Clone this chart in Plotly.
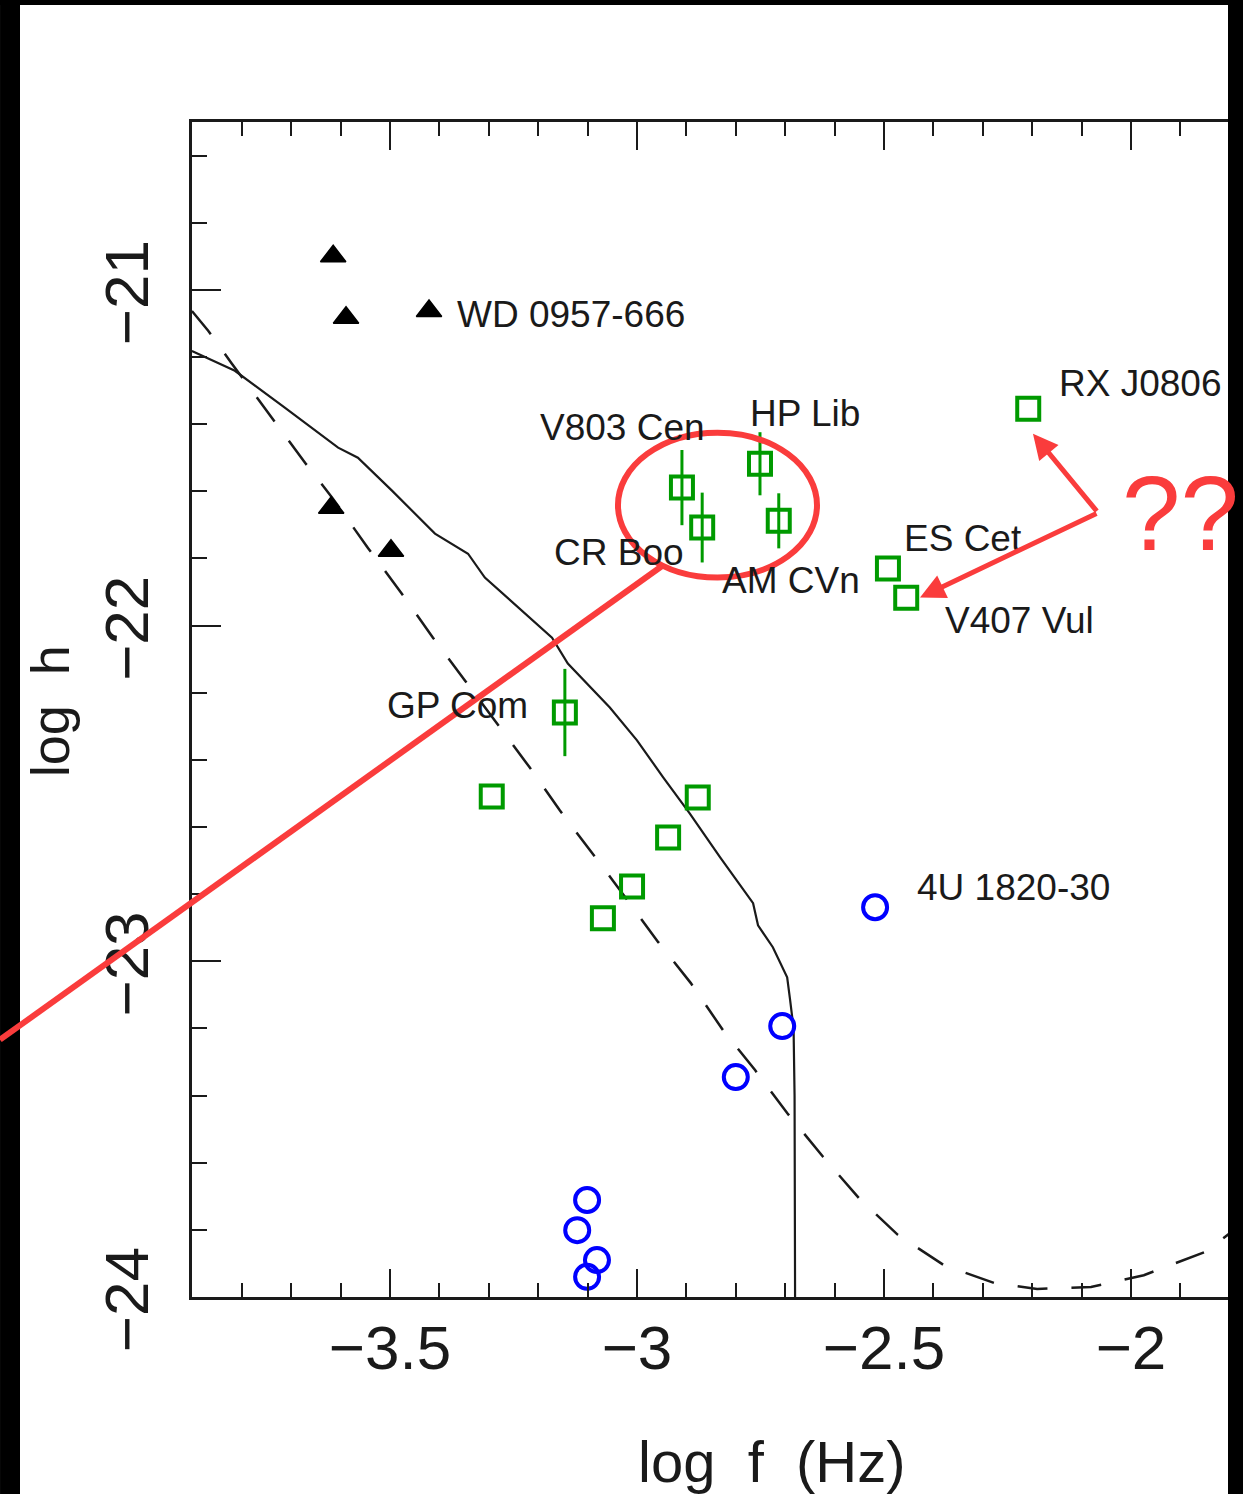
import plotly.graph_objects as go

# ---------------- data ----------------
# theoretical curves (log f, log h)
solid_f = [-3.901, -3.814, -3.713, -3.605, -3.565, -3.496, -3.409, -3.342, -3.308, -3.241,
           -3.172, -3.140, -3.055, -3.000, -2.947, -2.893, -2.832, -2.765, -2.755, -2.725,
           -2.696, -2.690, -2.683, -2.681, -2.680]
solid_h = [-21.182, -21.241, -21.351, -21.470, -21.500, -21.598, -21.726, -21.786, -21.857, -21.946,
           -22.036, -22.113, -22.244, -22.342, -22.452, -22.560, -22.690, -22.827, -22.893, -22.958,
           -23.048, -23.116, -23.200, -23.400, -24.000]

dashed_f = [-3.901, -3.868, -3.820, -3.739, -3.672, -3.617, -3.545, -3.476, -3.413, -3.348,
            -3.283, -3.217, -3.156, -3.089, -3.049, -2.957, -2.891, -2.826, -2.761, -2.696,
            -2.623, -2.551, -2.472, -2.379, -2.277, -2.190, -2.081, -1.974, -1.850, -1.800]
dashed_h = [-21.063, -21.122, -21.220, -21.381, -21.515, -21.619, -21.768, -21.905, -22.036, -22.164,
            -22.292, -22.423, -22.551, -22.679, -22.759, -22.943, -23.065, -23.205, -23.324, -23.452,
            -23.583, -23.705, -23.815, -23.905, -23.958, -23.976, -23.970, -23.935, -23.866, -23.810]

# black triangles (WD 0957-666 etc.)
tri_f = [-3.615, -3.589, -3.421, -3.619, -3.498]
tri_h = [-20.900, -21.083, -21.063, -21.649, -21.777]

# green squares with error bars
sqerr_f = [-2.909, -2.868, -2.751, -2.713, -3.146]
sqerr_h = [-21.589, -21.708, -21.518, -21.688, -22.259]
sqerr_e = [0.112, 0.104, 0.094, 0.082, 0.130]

# green squares without error bars
sq_f = [-2.208, -2.492, -2.455, -3.294, -2.877, -2.937, -3.010, -3.069]
sq_h = [-21.354, -21.830, -21.917, -22.509, -22.512, -22.631, -22.777, -22.872]

# blue circles
circ_f = [-2.518, -2.706, -2.800, -3.101, -3.121, -3.081, -3.101]
circ_h = [-22.839, -23.193, -23.345, -23.711, -23.801, -23.890, -23.940]

# source labels: text, left x, centre y
lab_text = ["WD 0957-666", "V803 Cen", "HP Lib", "CR Boo", "AM CVn", "ES Cet",
            "V407 Vul", "RX J0806", "GP Com", "4U 1820-30"]
lab_f = [-3.368, -3.200, -2.775, -3.172, -2.832, -2.464, -2.381, -2.150, -3.510, -2.437]
lab_h = [-21.074, -21.411, -21.369, -21.783, -21.866, -21.741, -21.985, -21.280, -22.238, -22.780]

x_ticks = [-3.5, -3.0, -2.5, -2.0]
x_tick_text = ["\u22123.5", "\u22123", "\u22122.5", "\u22122"]
y_ticks = [-21, -22, -23, -24]
y_tick_text = ["\u221221", "\u221222", "\u221223", "\u221224"]

x_title = "log\u00a0\u00a0f\u00a0\u00a0(Hz)"
y_title = "log\u00a0\u00a0h"

GREEN = "#009A00"
BLUE = "#0000FF"
RED = "#FA3C3C"
INK = "#1a1a1a"
FONT = "Liberation Sans, Arial, sans-serif"

fig = go.Figure()

fig.add_trace(go.Scatter(x=solid_f, y=solid_h, mode="lines",
                         line=dict(color=INK, width=2.2), showlegend=False))
fig.add_trace(go.Scatter(x=dashed_f, y=dashed_h, mode="lines",
                         line=dict(color=INK, width=2.5, dash="30px,24px"), showlegend=False))
fig.add_trace(go.Scatter(x=tri_f, y=tri_h, mode="markers",
                         marker=dict(symbol="triangle-up", size=22, color="black",
                                     line=dict(color="black", width=1.5)), showlegend=False))
fig.add_trace(go.Scatter(x=sqerr_f, y=sqerr_h, mode="markers",
                         error_y=dict(type="data", array=sqerr_e, visible=True,
                                      color=GREEN, thickness=3, width=0),
                         marker=dict(symbol="square-open", size=22, color=GREEN,
                                     line=dict(color=GREEN, width=4)), showlegend=False))
fig.add_trace(go.Scatter(x=sq_f, y=sq_h, mode="markers",
                         marker=dict(symbol="square-open", size=22, color=GREEN,
                                     line=dict(color=GREEN, width=4)), showlegend=False))
fig.add_trace(go.Scatter(x=circ_f, y=circ_h, mode="markers",
                         marker=dict(symbol="circle-open", size=24, color=BLUE,
                                     line=dict(color=BLUE, width=4)), showlegend=False))

annotations = []
for t, fx, hy in zip(lab_text, lab_f, lab_h):
    annotations.append(dict(x=fx, y=hy, xref="x", yref="y", text=t, showarrow=False,
                            xanchor="left", yanchor="middle",
                            font=dict(family=FONT, size=37, color=INK)))

# axis titles (the original axis extends past the cropped right edge,
# so the x title sits right of the visible centre)
annotations.append(dict(x=0.5598, y=-0.1396, xref="paper", yref="paper", text=x_title,
                        showarrow=False, xanchor="center", yanchor="middle",
                        font=dict(family=FONT, size=58, color=INK)))
annotations.append(dict(x=-0.1370, y=0.4985, xref="paper", yref="paper", text=y_title,
                        showarrow=False, xanchor="center", yanchor="middle", textangle=-90,
                        font=dict(family=FONT, size=54, color=INK)))

# red markup: arrows and question marks
annotations.append(dict(x=-2.1984, y=-21.4286, xref="x", yref="y",
                        ax=-2.0668, ay=-21.6637, axref="x", ayref="y",
                        text="", showarrow=True, arrowhead=2, arrowsize=1,
                        arrowwidth=5, arrowcolor=RED, standoff=0, startstandoff=0))
annotations.append(dict(x=-2.4271, y=-21.9167, xref="x", yref="y",
                        ax=-2.0668, ay=-21.6637, axref="x", ayref="y",
                        text="", showarrow=True, arrowhead=2, arrowsize=1,
                        arrowwidth=5, arrowcolor=RED, standoff=0, startstandoff=0))
annotations.append(dict(x=0.9537, y=0.6672, xref="paper", yref="paper", text="??",
                        showarrow=False, xanchor="center", yanchor="middle",
                        font=dict(family=FONT, size=105, color=RED)))

shapes = [
    # black frame of the screenshot
    dict(type="rect", xref="paper", yref="paper", x0=-0.1853, x1=-0.16602, y0=-0.1677, y1=1.1038,
         fillcolor="black", line=dict(width=0), layer="above"),
    dict(type="rect", xref="paper", yref="paper", x0=-0.1853, x1=1.0145, y0=1.0996, y1=1.1038,
         fillcolor="black", line=dict(width=0), layer="above"),
    dict(type="rect", xref="paper", yref="paper", x0=1.0, x1=1.0145, y0=-0.1677, y1=1.1038,
         fillcolor="black", line=dict(width=0), layer="above"),
    # red ellipse around the cluster
    dict(type="circle", xref="x", yref="y", x0=-3.0385, x1=-2.6356, y0=-21.857, y1=-21.4256,
         line=dict(color=RED, width=6), layer="above"),
    # red line leaving to the left
    dict(type="line", xref="paper", yref="paper", x0=-0.1853, y0=0.2190, x1=0.4537, y1=0.6221,
         line=dict(color=RED, width=6), layer="above"),
]

axis_common = dict(showline=True, linecolor=INK, linewidth=2.5, ticks="inside",
                   tickcolor=INK, tickwidth=2, showgrid=False, zeroline=False,
                   tickfont=dict(family=FONT, size=62, color=INK))

fig.update_layout(
    width=1243, height=1494,
    margin=dict(l=192, r=15, t=122, b=197, autoexpand=False),
    paper_bgcolor="white", plot_bgcolor="white",
    xaxis=dict(range=[-3.9008, -1.8036], tickvals=x_ticks, ticktext=x_tick_text,
               ticklen=28, mirror="ticks", ticklabelstandoff=-5,
               minor=dict(ticks="inside", ticklen=14, dtick=0.1, tick0=-4.0,
                          tickcolor=INK, tickwidth=2),
               **axis_common),
    yaxis=dict(range=[-24, -20.5], tickvals=y_ticks, ticktext=y_tick_text,
               ticklen=29, mirror=False, tickangle=-90, ticklabelstandoff=16,
               ticklabelshift=12,
               minor=dict(ticks="inside", ticklen=15, dtick=0.2, tick0=-24.0,
                          tickcolor=INK, tickwidth=2),
               **axis_common),
    annotations=annotations,
    shapes=shapes,
)

fig.write_html("out.html")
